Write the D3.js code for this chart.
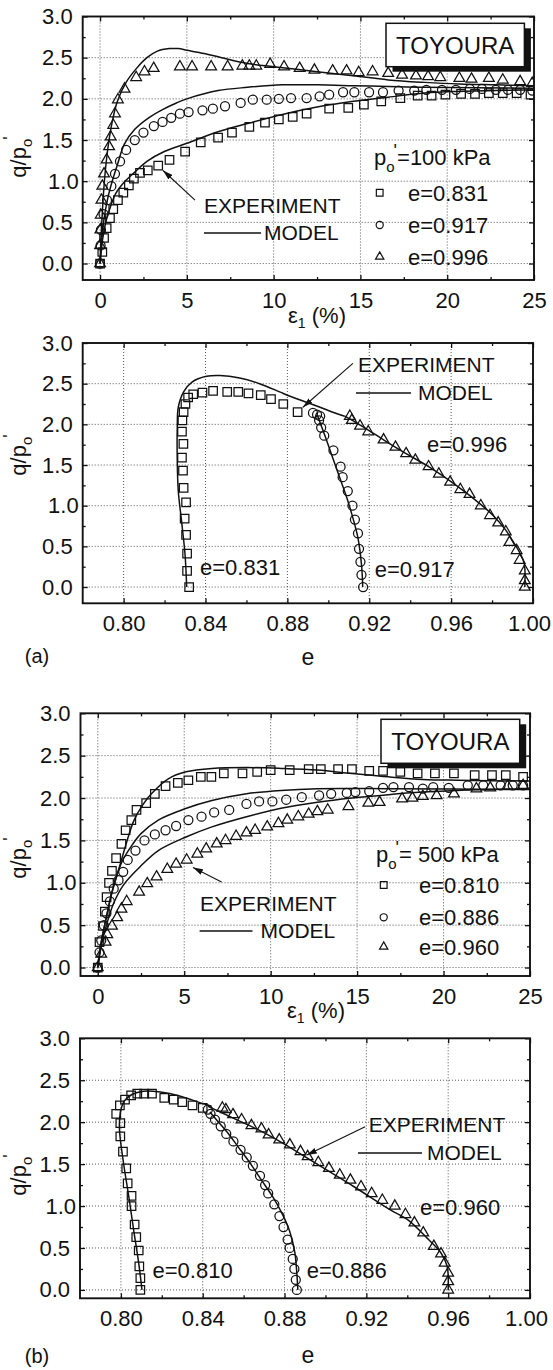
<!DOCTYPE html>
<html lang="en">
<head>
<meta charset="UTF-8">
<title>Toyoura sand - q/p'o</title>
<script src="https://d3js.org/d3.v7.min.js"></script>
<style>
  body { margin: 0; background: #fff; }
  svg text { font-family: "Liberation Sans", Arial, Helvetica, sans-serif; fill: #111; }
</style>
</head>
<body>
<div id="chart"></div>
<script>
// ---------- (a) p'o = 100 kPa : q/p'o vs axial strain (%) ----------
const expA_831 = [[0,0],[0.13,0.14],[0.23,0.31],[0.38,0.43],[0.57,0.55],[0.76,0.66],[1.03,0.77],[1.34,0.86],[1.66,0.95],[1.95,1.03],[2.3,1.1],[2.75,1.13],[3.35,1.19],[4.0,1.26],[4.9,1.36],[5.8,1.47],[6.8,1.53],[7.6,1.59],[8.6,1.66],[9.5,1.71],[10.3,1.75],[11.1,1.78],[11.9,1.82],[13.2,1.88],[14.3,1.89],[15.2,1.93],[16.2,1.97],[17.3,2.01],[18.3,2.04],[19.1,2.04],[19.9,2.05],[20.8,2.06],[21.6,2.06],[22.4,2.07],[23.2,2.07],[24.0,2.07],[24.8,2.05]];
const expA_917 = [[0,0],[0.03,0.22],[0.05,0.41],[0.2,0.6],[0.4,0.77],[0.65,0.94],[0.86,1.09],[1.15,1.24],[1.5,1.38],[2.0,1.5],[2.5,1.59],[3.1,1.67],[3.6,1.72],[4.1,1.77],[4.6,1.82],[5.1,1.84],[5.9,1.86],[6.5,1.88],[7.2,1.91],[8.1,1.95],[8.8,1.99],[9.6,1.99],[10.3,2.0],[11.0,2.01],[11.9,2.01],[12.65,2.03],[13.2,2.05],[14.0,2.08],[14.65,2.08],[15.5,2.08],[16.3,2.08],[17.2,2.1],[18.1,2.1],[18.8,2.11],[19.7,2.11],[20.5,2.11],[21.3,2.12],[22.0,2.12],[22.8,2.11],[23.5,2.11],[24.2,2.11],[24.9,2.1]];
const expA_996 = [[0,0],[0,0.22],[0.02,0.41],[0.04,0.59],[0.08,0.77],[0.13,0.94],[0.23,1.09],[0.38,1.26],[0.52,1.42],[0.61,1.54],[0.76,1.68],[0.86,1.82],[1.03,1.99],[1.41,2.12],[2.08,2.26],[2.56,2.33],[3.09,2.37],[4.6,2.39],[5.3,2.39],[6.4,2.39],[7.35,2.39],[8.2,2.4],[8.6,2.4],[9.0,2.4],[9.8,2.42],[10.6,2.39],[11.5,2.37],[12.35,2.35],[13.4,2.34],[14.2,2.34],[14.9,2.32],[15.7,2.33],[16.6,2.31],[17.4,2.29],[18.2,2.28],[18.9,2.27],[19.6,2.26],[20.7,2.25],[21.4,2.24],[22.4,2.25],[23.2,2.23],[24.2,2.21],[24.9,2.19]];
const modA_831 = [[0,0],[0.15,0.3],[0.35,0.52],[0.6,0.69],[0.9,0.85],[1.4,0.99],[2.0,1.11],[2.7,1.24],[3.7,1.36],[5.0,1.46],[6.8,1.6],[8.5,1.7],[10.5,1.81],[12.5,1.9],[14.6,1.97],[16.6,2.02],[18.7,2.07],[20.7,2.09],[22.8,2.1],[25,2.11]];
const modA_917 = [[0,0],[0.2,0.5],[0.45,0.8],[0.7,1.0],[1.0,1.2],[1.4,1.45],[2.0,1.63],[2.8,1.77],[3.6,1.87],[4.4,1.95],[5.0,2.0],[6.8,2.1],[8.5,2.14],[10.5,2.17],[12.5,2.17],[14.6,2.16],[16.6,2.15],[18.7,2.14],[25,2.13]];
const modA_996 = [[0,0],[0.1,0.5],[0.25,1.0],[0.45,1.4],[0.7,1.72],[1.0,1.97],[1.5,2.2],[2.1,2.37],[2.7,2.5],[3.3,2.58],[4.0,2.61],[4.5,2.61],[5.0,2.59],[6.0,2.55],[7.0,2.5],[8.5,2.43],[10,2.39],[12.5,2.33],[14.6,2.28],[16.6,2.23],[18.7,2.2],[20.7,2.18],[22.8,2.17],[25,2.16]];

// ---------- (a) p'o = 100 kPa : q/p'o vs void ratio e ----------
const expAe_831 = [[0.832,0],[0.831,0.2],[0.831,0.41],[0.8305,0.64],[0.8298,0.84],[0.8305,1.04],[0.8293,1.22],[0.829,1.43],[0.8285,1.59],[0.8292,1.76],[0.8285,1.91],[0.8287,2.05],[0.8293,2.15],[0.8302,2.25],[0.8315,2.33],[0.834,2.37],[0.8385,2.39],[0.8437,2.41],[0.8506,2.4],[0.856,2.4],[0.861,2.38],[0.867,2.36],[0.872,2.31],[0.878,2.25],[0.885,2.15]];
const expAe_917 = [[0.917,0],[0.9162,0.15],[0.9157,0.31],[0.915,0.47],[0.9145,0.66],[0.913,0.83],[0.9118,1.0],[0.9095,1.18],[0.907,1.35],[0.906,1.48],[0.9025,1.68],[0.898,1.86],[0.8965,1.96],[0.8955,2.05],[0.8945,2.12],[0.896,2.1],[0.8925,2.14]];
const expAe_996 = [[0.996,0],[0.996,0.08],[0.996,0.2],[0.9935,0.33],[0.992,0.45],[0.9885,0.55],[0.9867,0.68],[0.983,0.79],[0.979,0.88],[0.9745,1.0],[0.969,1.14],[0.9645,1.2],[0.9595,1.29],[0.954,1.39],[0.949,1.48],[0.9425,1.56],[0.938,1.64],[0.9328,1.72],[0.927,1.81],[0.9195,1.91],[0.9155,1.98],[0.9115,2.05],[0.9105,2.1]];
const modAe_831 = [[0.8308,0],[0.83,0.4],[0.8283,0.81],[0.8267,1.18],[0.8262,1.55],[0.8262,1.96],[0.8267,2.21],[0.8293,2.4],[0.8334,2.52],[0.8405,2.59],[0.847,2.6],[0.8567,2.57],[0.8664,2.5],[0.878,2.38],[0.8863,2.3],[0.895,2.22],[0.9033,2.14],[0.908,2.1]];
const modAe_917 = [[0.9168,0],[0.9163,0.25],[0.9145,0.6],[0.912,0.85],[0.909,1.1],[0.9055,1.35],[0.902,1.6],[0.8985,1.85],[0.896,2.02],[0.8945,2.12]];
const modAe_996 = [[0.996,0],[0.9957,0.29],[0.9934,0.43],[0.99,0.57],[0.9867,0.7],[0.9805,0.88],[0.9743,1.02],[0.962,1.26],[0.949,1.48],[0.938,1.64],[0.927,1.81],[0.9195,1.93],[0.913,2.03],[0.908,2.1]];

// ---------- (b) p'o = 500 kPa : q/p'o vs axial strain (%) ----------
const expB_810 = [[0,0],[0.1,0.3],[0.3,0.49],[0.41,0.66],[0.51,0.83],[0.65,1.0],[0.82,1.14],[1.06,1.29],[1.37,1.46],[1.61,1.62],[1.94,1.74],[2.24,1.86],[2.8,1.94],[3.3,2.05],[3.92,2.14],[4.63,2.18],[5.24,2.21],[5.96,2.25],[6.57,2.25],[7.29,2.29],[8.37,2.29],[9.22,2.31],[10.0,2.33],[11.1,2.33],[12.2,2.34],[12.9,2.34],[13.9,2.34],[14.7,2.34],[15.7,2.32],[16.5,2.32],[17.5,2.31],[18.5,2.29],[19.5,2.29],[20.6,2.29],[21.8,2.27],[22.8,2.27],[23.6,2.27],[24.6,2.25]];
const expB_886 = [[0,0],[0.1,0.18],[0.2,0.32],[0.35,0.5],[0.5,0.64],[0.7,0.78],[0.92,0.93],[1.2,1.03],[1.47,1.13],[1.73,1.27],[2.18,1.38],[2.7,1.5],[3.3,1.57],[3.92,1.62],[4.53,1.67],[5.24,1.74],[6.0,1.78],[6.73,1.83],[7.6,1.86],[8.6,1.93],[9.33,1.96],[10.1,1.96],[10.9,1.98],[11.8,2.01],[12.8,2.03],[13.5,2.05],[14.4,2.06],[14.9,2.07],[15.7,2.08],[16.5,2.12],[17.1,2.13],[18.0,2.13],[18.8,2.11],[19.4,2.13],[20.3,2.12],[21.4,2.15],[22.3,2.15],[23.3,2.15],[24.0,2.15],[24.6,2.15]];
const expB_960 = [[0,0],[0.2,0.16],[0.45,0.3],[0.55,0.39],[0.82,0.49],[1.12,0.59],[1.37,0.69],[1.67,0.78],[2.39,0.89],[2.86,0.99],[3.4,1.07],[4.02,1.16],[4.53,1.22],[5.14,1.27],[5.76,1.34],[6.27,1.4],[6.88,1.46],[7.39,1.5],[8.0,1.55],[8.6,1.59],[9.1,1.62],[9.8,1.66],[10.45,1.7],[10.96,1.74],[11.6,1.78],[12.2,1.81],[12.7,1.84],[13.3,1.86],[14.5,1.9],[15.65,1.94],[16.3,1.95],[17.6,1.99],[18.2,2.0],[18.8,2.02],[19.6,2.03],[20.6,2.05],[21.9,2.11],[22.7,2.12],[23.7,2.14],[24.6,2.15]];
const modB_810 = [[0,0],[0.2,0.3],[0.45,0.55],[0.8,0.87],[1.27,1.2],[1.7,1.5],[2.1,1.74],[2.6,1.92],[3.1,2.05],[4.1,2.23],[5.1,2.31],[6.6,2.35],[8.6,2.36],[10.6,2.35],[12.7,2.33],[14.7,2.29],[16.8,2.25],[18.8,2.22],[20.8,2.21],[25,2.2]];
const modB_886 = [[0,0],[0.2,0.3],[0.5,0.6],[0.9,0.95],[1.4,1.25],[2.0,1.45],[2.5,1.58],[3.5,1.74],[5,1.87],[6.6,1.97],[8.6,2.05],[10.6,2.09],[12.7,2.11],[16.8,2.11],[25,2.1]];
const modB_960 = [[0,0],[0.2,0.25],[0.5,0.5],[0.9,0.75],[1.47,0.97],[2.5,1.2],[3.5,1.38],[5.1,1.54],[6.6,1.66],[8.6,1.78],[10.6,1.88],[12.7,1.95],[14.7,2.0],[16.8,2.04],[18.8,2.07],[20.8,2.09],[25,2.11]];

// ---------- (b) p'o = 500 kPa : q/p'o vs void ratio e ----------
const expBe_810 = [[0.8095,0],[0.8095,0.14],[0.809,0.28],[0.8087,0.47],[0.8075,0.63],[0.8067,0.78],[0.8052,1.0],[0.8052,1.12],[0.8033,1.27],[0.8026,1.45],[0.801,1.65],[0.7997,1.83],[0.7997,1.99],[0.7977,2.1],[0.7995,2.2],[0.802,2.27],[0.805,2.32],[0.808,2.34],[0.8114,2.34],[0.8152,2.34],[0.8212,2.29],[0.8258,2.27],[0.83,2.24],[0.835,2.2],[0.84,2.17]];
const expBe_886 = [[0.886,0],[0.8855,0.12],[0.8848,0.25],[0.884,0.37],[0.8825,0.5],[0.8815,0.6],[0.8795,0.75],[0.8775,0.88],[0.875,1.02],[0.872,1.15],[0.8705,1.25],[0.868,1.36],[0.8645,1.48],[0.8615,1.58],[0.8585,1.67],[0.855,1.77],[0.8515,1.86],[0.8488,1.95],[0.846,2.03],[0.8438,2.1],[0.8425,2.15]];
const expBe_960 = [[0.96,0],[0.96,0.1],[0.96,0.2],[0.9583,0.32],[0.9565,0.43],[0.953,0.52],[0.9478,0.68],[0.9435,0.8],[0.9391,0.9],[0.9339,1.0],[0.9278,1.07],[0.9226,1.15],[0.9174,1.23],[0.9122,1.31],[0.907,1.37],[0.9017,1.45],[0.8965,1.52],[0.8913,1.59],[0.8878,1.65],[0.8826,1.73],[0.8774,1.79],[0.8722,1.85],[0.8687,1.92],[0.8638,1.96],[0.859,2.03],[0.8548,2.09],[0.8513,2.15],[0.8496,2.17]];
const modBe_810 = [[0.8103,0],[0.8087,0.32],[0.8062,0.72],[0.8038,1.12],[0.8013,1.51],[0.7993,1.91],[0.7997,2.11],[0.8016,2.25],[0.8054,2.33],[0.8111,2.37],[0.8193,2.36],[0.8291,2.31],[0.8389,2.23],[0.8443,2.19]];
const modBe_886 = [[0.8865,0],[0.886,0.2],[0.885,0.45],[0.8825,0.7],[0.879,0.9],[0.8745,1.1],[0.869,1.3],[0.8635,1.5],[0.8575,1.7],[0.852,1.88],[0.847,2.02],[0.8435,2.12]];
const modBe_960 = [[0.96,0],[0.9595,0.28],[0.9565,0.44],[0.9504,0.6],[0.94,0.84],[0.9313,0.96],[0.914,1.23],[0.8965,1.49],[0.8791,1.75],[0.8687,1.89],[0.8583,2.01],[0.8478,2.13],[0.8426,2.19]];

// tick values
const strainTicks = [0, 5, 10, 15, 20, 25];
const strainMinor = [2.5, 7.5, 12.5, 17.5, 22.5];
const voidTicks = [0.80, 0.84, 0.88, 0.92, 0.96, 1.00];
const voidMinor = [0.82, 0.86, 0.90, 0.94, 0.98];
const qTicks = [0, 0.5, 1, 1.5, 2, 2.5, 3];
const qMinor = [0.25, 0.75, 1.25, 1.75, 2.25, 2.75];

const INK = '#111';
const FONT = '"Liberation Sans", Arial, Helvetica, sans-serif';
const FS = 22;

const svg = d3.select('#chart').append('svg')
  .attr('width', 553).attr('height', 1370)
  .style('background', '#fff');

const defs = svg.append('defs');
defs.append('marker')
  .attr('id', 'arrow').attr('viewBox', '0 0 10 6')
  .attr('refX', 10).attr('refY', 3)
  .attr('markerWidth', 10).attr('markerHeight', 6)
  .attr('markerUnits', 'userSpaceOnUse').attr('orient', 'auto')
  .append('path').attr('d', 'M0,0 L10,3 L0,6 z').attr('fill', INK);

let panelCount = 0;
function panel(box, xDomain, yDomain, xTicks, xMinor, xFmt) {
  const id = 'clip' + (panelCount++);
  const x = d3.scaleLinear().domain(xDomain).range([box.left, box.right]);
  const y = d3.scaleLinear().domain(yDomain).range([box.bottom, box.top]);
  const g = svg.append('g');

  defs.append('clipPath').attr('id', id).append('rect')
    .attr('x', box.left).attr('y', box.top)
    .attr('width', box.right - box.left).attr('height', box.bottom - box.top);

  // dotted grid
  g.append('g').selectAll('line')
    .data(xTicks.filter(t => x(t) > box.left + 1 && x(t) < box.right - 1))
    .join('line')
    .attr('x1', d => x(d)).attr('x2', d => x(d))
    .attr('y1', box.top).attr('y2', box.bottom)
    .attr('stroke', '#444').attr('stroke-width', 0.9).attr('stroke-dasharray', '1,2');
  g.append('g').selectAll('line')
    .data(qTicks.filter(t => y(t) > box.top + 1 && y(t) < box.bottom - 1))
    .join('line')
    .attr('y1', d => y(d)).attr('y2', d => y(d))
    .attr('x1', box.left).attr('x2', box.right)
    .attr('stroke', '#444').attr('stroke-width', 0.9).attr('stroke-dasharray', '1,2');

  // axes, ticks pointing inwards on all four sides
  const ax = g.append('g');
  ax.append('g').attr('transform', `translate(0,${box.bottom})`)
    .call(d3.axisBottom(x).tickValues(xTicks).tickSize(-5).tickPadding(12).tickFormat(xFmt));
  ax.append('g').attr('transform', `translate(0,${box.bottom})`)
    .call(d3.axisBottom(x).tickValues(xMinor).tickSize(-3).tickFormat(''));
  ax.append('g').attr('transform', `translate(0,${box.top})`)
    .call(d3.axisTop(x).tickValues(xTicks).tickSize(-5).tickFormat(''));
  ax.append('g').attr('transform', `translate(0,${box.top})`)
    .call(d3.axisTop(x).tickValues(xMinor).tickSize(-3).tickFormat(''));
  ax.append('g').attr('transform', `translate(${box.left},0)`)
    .call(d3.axisLeft(y).tickValues(qTicks).tickSize(-5).tickPadding(10).tickFormat(d3.format('.1f')));
  ax.append('g').attr('transform', `translate(${box.left},0)`)
    .call(d3.axisLeft(y).tickValues(qMinor).tickSize(-3).tickFormat(''));
  ax.append('g').attr('transform', `translate(${box.right},0)`)
    .call(d3.axisRight(y).tickValues(qTicks).tickSize(-5).tickFormat(''));
  ax.append('g').attr('transform', `translate(${box.right},0)`)
    .call(d3.axisRight(y).tickValues(qMinor).tickSize(-3).tickFormat(''));
  ax.selectAll('.domain').remove();
  ax.selectAll('g').attr('font-size', FS).attr('font-family', FONT);
  ax.selectAll('.tick line').attr('stroke', INK).attr('stroke-width', 1.3);
  ax.selectAll('.tick text').attr('fill', INK);
  // last label on the e axis sits at the page edge, nudge it in a bit
  ax.selectAll('.tick text').filter(d => d === 1).attr('x', -4);

  // frame
  g.append('rect')
    .attr('x', box.left).attr('y', box.top)
    .attr('width', box.right - box.left).attr('height', box.bottom - box.top)
    .attr('fill', 'none').attr('stroke', INK).attr('stroke-width', 1.9);

  const data = g.append('g').attr('clip-path', `url(#${id})`);
  return { x, y, g, data };
}

function model(p, pts) {
  p.data.append('path').datum(pts)
    .attr('d', d3.line().x(d => p.x(d[0])).y(d => p.y(d[1])).curve(d3.curveCatmullRom.alpha(0.5)))
    .attr('fill', 'none').attr('stroke', INK).attr('stroke-width', 1.5);
}

const SYM = {
  square: [d3.symbolSquare, 72, 45],
  circle: [d3.symbolCircle, 64, 40],
  triangle: [d3.symbolTriangle, 50, 30]
};

function points(p, pts, kind) {
  p.data.append('g').selectAll('path').data(pts).join('path')
    .attr('transform', d => `translate(${p.x(d[0])},${p.y(d[1])})`)
    .attr('d', d3.symbol(SYM[kind][0], SYM[kind][1]))
    .attr('fill', 'none').attr('stroke', INK).attr('stroke-width', 1.25);
}

function arrow(p, from, to) {
  p.g.append('line')
    .attr('x1', p.x(from[0])).attr('y1', p.y(from[1]))
    .attr('x2', p.x(to[0])).attr('y2', p.y(to[1]))
    .attr('stroke', INK).attr('stroke-width', 1.1).attr('marker-end', 'url(#arrow)');
}

function text(x, y, str, size, anchor) {
  return svg.append('text').attr('x', x).attr('y', y)
    .attr('font-size', size || FS).attr('text-anchor', anchor || 'start').text(str);
}

function yTitle(x, y) {
  const t = svg.append('text').attr('transform', `translate(${x},${y}) rotate(-90)`)
    .attr('font-size', FS).attr('text-anchor', 'middle');
  t.append('tspan').text('q/p');
  t.append('tspan').attr('dy', 6).attr('font-size', 15).text('o');
  t.append('tspan').attr('dx', -1).attr('dy', -16).attr('font-size', 18).text("'");
}

function strainTitle(x, y) {
  const t = svg.append('text').attr('x', x).attr('y', y)
    .attr('font-size', FS).attr('text-anchor', 'middle');
  t.append('tspan').text('ε');
  t.append('tspan').attr('dy', 5).attr('font-size', 14).text('1');
  t.append('tspan').attr('dy', -5).text(' (%)');
}

function pressureLabel(x, y, str) {
  const t = svg.append('text').attr('x', x).attr('y', y).attr('font-size', FS);
  t.append('tspan').text('p');
  t.append('tspan').attr('dy', 7).attr('font-size', 15).text('o');
  t.append('tspan').attr('dx', -1).attr('dy', -15).attr('font-size', 18).text("'");
  t.append('tspan').attr('dx', 0).attr('dy', 8).text(str);
}

function toyoura(x0, y0, w, h) {
  svg.append('rect').attr('x', x0 + 6.5).attr('y', y0 + 5).attr('width', w).attr('height', h).attr('fill', INK);
  svg.append('rect').attr('x', x0).attr('y', y0).attr('width', w).attr('height', h)
    .attr('fill', '#fff').attr('stroke', INK).attr('stroke-width', 1.5);
  text(x0 + w / 2, y0 + h / 2 + 8.5, 'TOYOURA', 24, 'middle');
}

function legendRow(x, y, kind, str, tx) {
  svg.append('path').attr('transform', `translate(${x},${y})`)
    .attr('d', d3.symbol(SYM[kind][0], SYM[kind][2]))
    .attr('fill', 'none').attr('stroke', INK).attr('stroke-width', 1.2);
  text(tx, y + 8, str, FS);
}

function expModel(x, yExp, yMod, lineX0, lineX1, modX) {
  text(x, yExp, 'EXPERIMENT', 21);
  svg.append('line').attr('x1', lineX0).attr('x2', lineX1).attr('y1', yMod - 7).attr('y2', yMod - 7)
    .attr('stroke', INK).attr('stroke-width', 1.4);
  text(modX, yMod, 'MODEL', 21);
}

// ---------- panel 1 ----------
const p1 = panel({ left: 82.7, right: 534, top: 16.5, bottom: 280 }, [-1, 25], [-0.2, 3], strainTicks, strainMinor, d3.format('d'));
model(p1, modA_831); model(p1, modA_917); model(p1, modA_996);
points(p1, expA_831, 'square'); points(p1, expA_917, 'circle'); points(p1, expA_996, 'triangle');
arrow(p1, [5.47, 0.77], [3.63, 1.13]);
toyoura(386, 23.3, 138.4, 43.4);
pressureLabel(374, 165, '=100 kPa');
legendRow(379.7, 192.7, 'square', 'e=0.831', 408);
legendRow(379.7, 225, 'circle', 'e=0.917', 408);
legendRow(379.7, 256.7, 'triangle', 'e=0.996', 408);
expModel(204, 213, 240, 204, 261, 264);
yTitle(26, 157);
strainTitle(317, 323);

// ---------- panel 2 ----------
const p2 = panel({ left: 82.7, right: 533, top: 343, bottom: 603.3 }, [0.78, 1.0], [-0.2, 3], voidTicks, voidMinor, d3.format('.2f'));
model(p2, modAe_831); model(p2, modAe_917); model(p2, modAe_996);
points(p2, expAe_831, 'square'); points(p2, expAe_917, 'circle'); points(p2, expAe_996, 'triangle');
arrow(p2, [0.912, 2.75], [0.8876, 2.21]);
expModel(358, 371.7, 400, 356, 411, 418);
text(427, 452, 'e=0.996');
text(374.7, 577, 'e=0.917');
text(200, 575, 'e=0.831');
yTitle(26, 455);
text(308, 665, 'e', 23, 'middle');
text(37, 663, '(a)', 20, 'middle');

// ---------- panel 3 ----------
const p3 = panel({ left: 80.5, right: 530, top: 713.3, bottom: 976 }, [-1, 25], [-0.1, 3], strainTicks, strainMinor, d3.format('d'));
model(p3, modB_810); model(p3, modB_886); model(p3, modB_960);
points(p3, expB_810, 'square'); points(p3, expB_886, 'circle'); points(p3, expB_960, 'triangle');
arrow(p3, [7.16, 1.01], [5.51, 1.18]);
toyoura(381, 719.3, 138.7, 44);
pressureLabel(376, 862, '= 500 kPa');
legendRow(383.7, 885, 'square', 'e=0.810', 419);
legendRow(383.7, 917.3, 'circle', 'e=0.886', 419);
legendRow(383.7, 946.7, 'triangle', 'e=0.960', 419);
expModel(200, 910.7, 938, 199.6, 252.5, 260.6);
yTitle(26, 858);
strainTitle(316, 1018);

// ---------- panel 4 ----------
const p4 = panel({ left: 80, right: 530, top: 1038.3, bottom: 1298.3 }, [0.78, 1.0], [-0.1, 3], voidTicks, voidMinor, d3.format('.2f'));
model(p4, modBe_810); model(p4, modBe_886); model(p4, modBe_960);
points(p4, expBe_810, 'square'); points(p4, expBe_886, 'circle'); points(p4, expBe_960, 'triangle');
arrow(p4, [0.9194, 1.945], [0.8909, 1.608]);
expModel(368.8, 1131.7, 1160, 358, 422, 427);
text(420, 1215, 'e=0.960');
text(306.7, 1278, 'e=0.886');
text(152.5, 1278, 'e=0.810');
yTitle(26, 1175);
text(308, 1363, 'e', 23, 'middle');
text(37, 1363, '(b)', 20, 'middle');
</script>
</body>
</html>
